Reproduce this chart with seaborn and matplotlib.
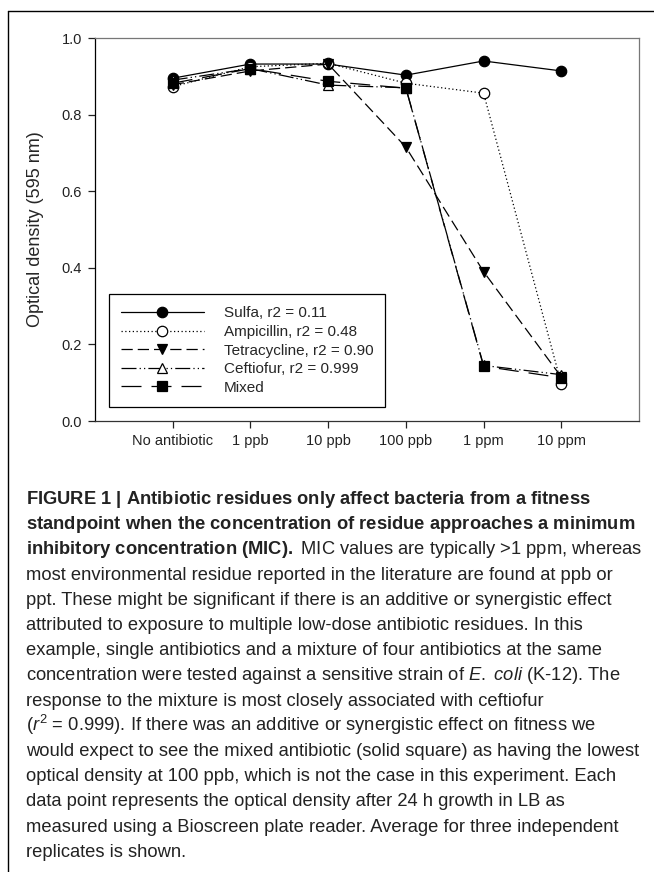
import matplotlib
matplotlib.use("Agg")
import matplotlib.pyplot as plt
import seaborn as sns
import pandas as pd
from matplotlib import font_manager
from matplotlib.lines import Line2D

# data
concentrations = ["No antibiotic", "1 ppb", "10 ppb", "100 ppb", "1 ppm", "10 ppm"]
sulfa = [0.895, 0.932, 0.932, 0.903, 0.940, 0.914]
ampicillin = [0.873, 0.925, 0.934, 0.882, 0.856, 0.097]
tetracycline = [0.878, 0.914, 0.932, 0.715, 0.390, 0.115]
ceftiofur = [0.890, 0.920, 0.877, 0.870, 0.145, 0.121]
mixed = [0.882, 0.920, 0.887, 0.869, 0.143, 0.113]
series_names = ["Sulfa, r2 = 0.11", "Ampicillin, r2 = 0.48", "Tetracycline, r2 = 0.90",
                "Ceftiofur, r2 = 0.999", "Mixed"]
y_ticks = [0.0, 0.2, 0.4, 0.6, 0.8, 1.0]

caption_lines = [
    r"$\mathbf{FIGURE\ 1\ |\ Antibiotic\ residues\ only\ affect\ bacteria\ from\ a\ fitness}$",
    r"$\mathbf{standpoint\ when\ the\ concentration\ of\ residue\ approaches\ a\ minimum}$",
    r"$\mathbf{inhibitory\ concentration\ (MIC).}$ MIC values are typically >1 ppm, whereas",
    "most environmental residue reported in the literature are found at ppb or",
    "ppt. These might be significant if there is an additive or synergistic effect",
    "attributed to exposure to multiple low-dose antibiotic residues. In this",
    "example, single antibiotics and a mixture of four antibiotics at the same",
    r"concentration were tested against a sensitive strain of $\mathit{E.\ coli}$ (K-12). The",
    "response to the mixture is most closely associated with ceftiofur",
    r"($\mathit{r}^2$ = 0.999). If there was an additive or synergistic effect on fitness we",
    "would expect to see the mixed antibiotic (solid square) as having the lowest",
    "optical density at 100 ppb, which is not the case in this experiment. Each",
    "data point represents the optical density after 24 h growth in LB as",
    "measured using a Bioscreen plate reader. Average for three independent",
    "replicates is shown.",
]

sns.set_style("ticks")
plt.rcParams["font.family"] = ["Liberation Sans", "DejaVu Sans"]

names = {f.name for f in font_manager.fontManager.ttflist}
cap_font = "Liberation Sans Narrow" if "Liberation Sans Narrow" in names else "Liberation Sans"
plt.rcParams["mathtext.fontset"] = "custom"
plt.rcParams["mathtext.rm"] = cap_font
plt.rcParams["mathtext.bf"] = cap_font + ":bold"
plt.rcParams["mathtext.it"] = cap_font + ":italic"

W, H = 654, 872
fig = plt.figure(figsize=(W / 100, H / 100), dpi=100)
fig.patch.set_facecolor("white")
ax = fig.add_axes([95 / W, 1 - 421 / H, 544 / W, 383 / H])

styles = [
    dict(marker="o", markerfacecolor="black", linestyle="-", markersize=7.5),
    dict(marker="o", markerfacecolor="white", linestyle=(0, (1, 2)), markersize=7.5),
    dict(marker="v", markerfacecolor="black", linestyle=(0, (9, 4)), markersize=7.5),
    dict(marker="^", markerfacecolor="white", linestyle=(0, (12, 2.5, 1, 2.5, 1, 2.5)), markersize=7.5),
    dict(marker="s", markerfacecolor="black", linestyle=(0, (16, 8)), markersize=7),
]
all_values = [sulfa, ampicillin, tetracycline, ceftiofur, mixed]

for name, values, st in zip(series_names, all_values, styles):
    df = pd.DataFrame({"conc": concentrations, "od": values})
    sns.lineplot(data=df, x="conc", y="od", ax=ax, sort=False, color="black",
                 linewidth=0.9, markeredgecolor="black", markeredgewidth=0.9,
                 label=name, **st)

ax.set_xlim(-1, 6)
ax.set_ylim(0, 1.0)
ax.set_yticks(y_ticks)
ax.set_yticklabels([f"{v:.1f}" for v in y_ticks])
ax.set_xlabel("")
ax.set_ylabel("Optical density (595 nm)", fontsize=13)
ax.yaxis.set_label_coords(-0.094, 0.5)
ax.tick_params(axis="both", direction="out", length=5, width=0.9, pad=4.5,
               labelsize=10.5, colors="#222222")
for side, col in [("left", "black"), ("bottom", "#333333"), ("top", "#777777"), ("right", "#777777")]:
    ax.spines[side].set_visible(True)
    ax.spines[side].set_color(col)
    ax.spines[side].set_linewidth(0.9)

leg = ax.legend(loc="lower left", bbox_to_anchor=((109 - 95) / 544, (421 - 407) / 383),
                borderaxespad=0, fontsize=11, frameon=True, fancybox=False,
                edgecolor="black", handlelength=5.4, handletextpad=1.3,
                labelspacing=0.3, borderpad=0.8)
leg.get_frame().set_linewidth(0.9)
leg.get_frame().set_alpha(1)

# frame lines of the figure panel
fig.add_artist(Line2D([8 / W, 1], [1 - 11 / H, 1 - 11 / H], transform=fig.transFigure,
                      color="black", linewidth=1))
fig.add_artist(Line2D([8 / W, 8 / W], [0, 1 - 11 / H], transform=fig.transFigure,
                      color="black", linewidth=1))

# caption: size fitted so the 4th line spans about 589 px
fig.canvas.draw()
renderer = fig.canvas.get_renderer()
probe = fig.text(0, 0, caption_lines[3], fontsize=12, family=cap_font)
w = probe.get_window_extent(renderer).width
probe.remove()
cap_size = 12 * 589 / w

for i, line in enumerate(caption_lines):
    y_px = 499 + 25.2 * i + 5
    fig.text(26 / W, 1 - y_px / H, line, fontsize=cap_size, family=cap_font,
             ha="left", va="baseline", color="#222222")

fig.savefig("out.png", dpi=100)
